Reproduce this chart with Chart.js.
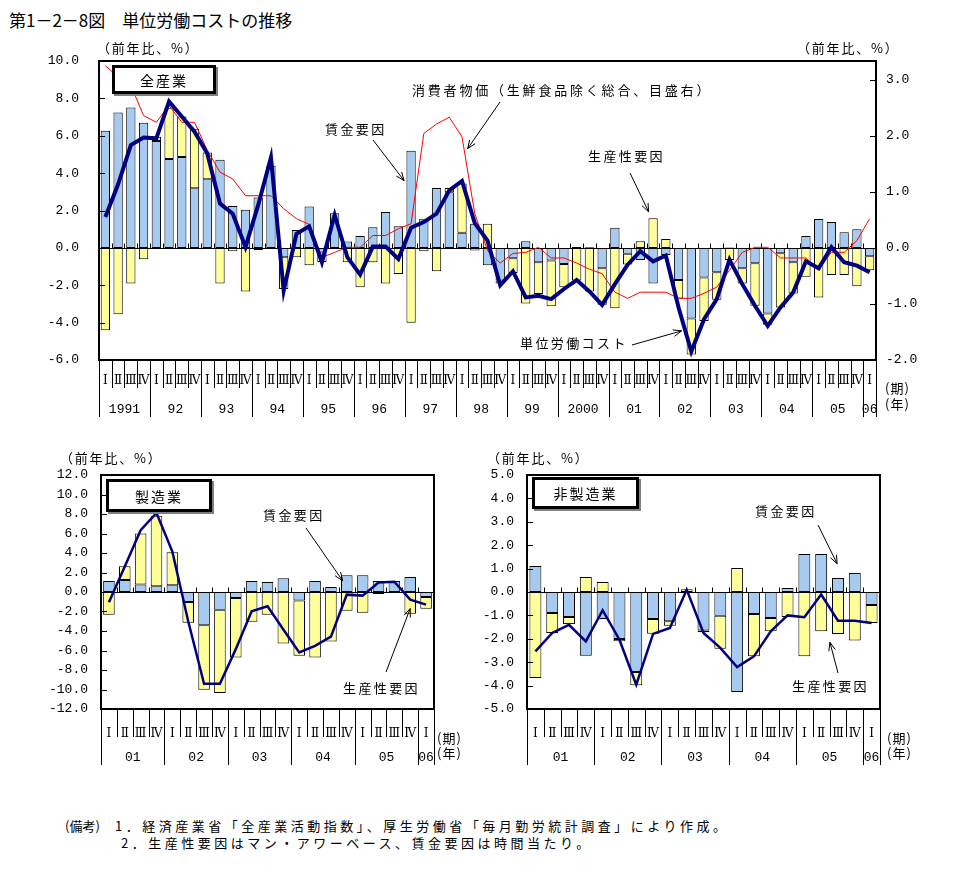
<!DOCTYPE html>
<html><head><meta charset="utf-8">
<script src="https://cdn.jsdelivr.net/npm/chart.js@4"></script>
<style>
body{margin:0;background:#fff;width:973px;height:872px;position:relative;overflow:hidden;font-family:"Noto Sans CJK JP",sans-serif;color:#000}
canvas{position:absolute}
.t{position:absolute;white-space:nowrap;line-height:1;font-size:13px}
.ann{letter-spacing:2.4px}
.box{position:absolute;box-sizing:border-box;border:3px solid #000;background:#fff;box-shadow:2px 2px 0 #808080;display:flex;align-items:center;justify-content:center;font-size:14px;letter-spacing:2px;line-height:1}
</style></head>
<body>
<div class="t" style="left:9px;top:11px;font-size:17px">第1－2－8図　単位労働コストの推移</div>

<canvas id="cAll" width="973" height="390" style="left:0;top:40px;width:973px;height:390px"></canvas>
<canvas id="cMfg" width="480" height="340" style="left:0;top:440px;width:480px;height:340px"></canvas>
<canvas id="cNon" width="493" height="340" style="left:480px;top:440px;width:493px;height:340px"></canvas>

<div class="t" style="left:97px;top:41px;letter-spacing:1.8px">（前年比、%）</div>
<div class="t" style="left:797px;top:41px;letter-spacing:1.8px">（前年比、%）</div>
<div class="t" style="left:885px;top:381px;letter-spacing:1px">(期)</div>
<div class="t" style="left:885px;top:397px;letter-spacing:1px">(年)</div>
<div class="box" style="left:112px;top:65px;width:104px;height:29px">全産業</div>
<div class="t ann" style="left:325px;top:122px">賃金要因</div>
<div class="t ann" style="left:412px;top:83px;letter-spacing:2.8px">消費者物価（生鮮食品除く総合、目盛右）</div>
<div class="t ann" style="left:588px;top:149px">生産性要因</div>
<div class="t ann" style="left:520px;top:336px">単位労働コスト</div>

<div class="t" style="left:60px;top:451px;letter-spacing:1.8px">（前年比、%）</div>
<div class="t" style="left:487px;top:451px;letter-spacing:1.8px">（前年比、%）</div>
<div class="box" style="left:106px;top:479px;width:106px;height:33px">製造業</div>
<div class="box" style="left:532px;top:477px;width:107px;height:32px">非製造業</div>
<div class="t ann" style="left:263px;top:508px">賃金要因</div>
<div class="t ann" style="left:343px;top:681px">生産性要因</div>
<div class="t ann" style="left:755px;top:504px">賃金要因</div>
<div class="t ann" style="left:792px;top:679px">生産性要因</div>
<div class="t" style="left:437px;top:731px;letter-spacing:1px">(期)</div>
<div class="t" style="left:437px;top:746px;letter-spacing:1px">(年)</div>
<div class="t" style="left:887px;top:731px;letter-spacing:1px">(期)</div>
<div class="t" style="left:887px;top:746px;letter-spacing:1px">(年)</div>

<div class="t" style="left:65px;top:819px">(備考)</div>
<div class="t" style="left:115px;top:819px;letter-spacing:3.5px">1．経済産業省「全産業活動指数」、厚生労働省「毎月勤労統計調査」により作成。</div>
<div class="t" style="left:121px;top:836px;letter-spacing:3.5px">2．生産性要因はマン・アワーベース、賃金要因は時間当たり。</div>

<script>
// ---------- data ----------
const quarterNames = ['Ⅰ','Ⅱ','Ⅲ','Ⅳ'];
const yearsAll = ['1991','92','93','94','95','96','97','98','99','2000','01','02','03','04','05','06'];
const yearsSub = ['01','02','03','04','05','06'];

// 全産業 1991Q1–2006Q1
const wageAll = [6.27,7.24,7.51,6.70, 5.72,4.75,4.86,3.19, 3.67,4.71,2.24,2.04, 2.69,4.39,-0.50,0.95,
  2.22,-0.25,1.85,0.34, 0.63,1.11,1.92,1.16, 5.20,1.56,3.21,2.97, 0.81,1.29,-0.93,-1.75,
  -0.56,0.36,-0.77,-0.68, -0.86,0.05,0.03,-1.09, 1.08,-0.32,-0.65,-1.90, -0.38,-1.72,-3.78,-1.58,
  -1.31,0.02,-1.09,-0.82, -3.51,-0.29,-0.77,0.63, 1.54,1.38,0.84,1.00, -0.45];
const prodAll = [-4.41,-3.55,-1.90,-0.61, 0.23,2.72,2.17,3.19, 1.43,-1.90,-0.18,-2.33, -0.11,-0.05,-1.70,-0.50,
  -0.93,-0.50,-0.05,-0.77, -2.11,-0.77,-1.90,-1.40, -4.00,-0.18,-1.25,0.24, 2.63,-0.14,1.29,-0.15,
  -0.79,-2.97,-1.70,-2.45, -1.25,-1.75,-2.33,-1.95, -3.23,-0.57,0.36,1.59, 0.47,-0.99,-1.92,-2.33,
  -1.47,-0.65,-0.81,-2.28, -0.61,-2.90,-1.67,-1.54, -2.65,-1.45,-1.45,-2.06, -0.75];
const ulcAll = [1.65,3.40,5.50,5.91, 5.86,7.83,7.03,6.22, 5.05,2.37,1.83,0.04, 2.30,4.84,-2.29,0.75,
  1.15,-0.77,1.76,-0.50, -1.43,0.07,0.07,-0.59, 1.08,1.38,1.83,3.08, 3.58,1.33,0.39,-2.00,
  -1.25,-2.65,-2.56,-2.74, -2.20,-1.72,-2.33,-3.05, -1.94,-0.90,-0.18,-0.72, -0.41,-3.19,-5.55,-3.82,
  -2.74,-0.63,-1.94,-3.10, -4.18,-3.19,-2.38,-0.72, -1.09,0.04,-0.77,-0.95, -1.31];
const cpiAll = [3.25,3.05,2.90,2.36, 2.24,2.54,2.24,2.24, 1.74,1.35,1.23,0.93, 0.93,0.93,0.70,0.52,
  0.42,-0.17,-0.08,0.01, 0.01,0.22,0.22,0.34, 0.43,2.04,2.21,2.33, 1.98,0.61,-0.05,-0.27,
  -0.10,-0.08,0.01,-0.18, -0.18,-0.27,-0.38,-0.46, -0.79,-0.90,-0.79,-0.79, -0.79,-0.90,-0.90,-0.81,
  -0.70,-0.40,-0.08,0.01, 0.01,-0.18,-0.18,-0.18, -0.38,-0.08,-0.08,0.13, 0.52];

// 製造業 2001Q1–2006Q1
const wageMfg = [1.12,1.22,0.78,0.58, 0.68,-1.02,-3.42,-1.83, -0.61,1.12,1.02,1.42, -0.88,1.12,0.51,1.73, 1.73,1.12,1.12,1.53, -0.51];
const prodMfg = [-2.34,1.42,5.22,7.25, 3.39,-2.14,-6.61,-8.54, -6.10,-3.05,-2.34,-5.29, -5.66,-6.71,-5.08,-1.93, -2.14,-0.20,0.00,-2.24, -1.22];
const ulcMfg  = [-1.05,2.61,6.34,8.10, 4.14,-3.00,-9.42,-9.42, -5.86,-1.97,-1.46,-3.85, -6.20,-5.53,-4.58,-0.27, -0.37,0.98,1.05,-0.78, -1.29];

// 非製造業 2001Q1–2006Q1
const wageNon = [1.11,-0.90,-1.07,-2.72, -1.15,-2.01,-3.42,-1.15, -1.25,-0.05,-1.64,-1.01, -4.27,-0.94,-1.11,0.17, 1.62,1.62,0.60,0.81, -0.56];
const prodNon = [-3.68,-0.85,-0.30,0.64, 0.43,-0.10,-0.57,-0.63, -0.19,0.12,-0.08,-1.42, 1.03,-1.81,-0.57,-1.07, -2.75,-1.68,-1.79,-2.07, -0.77];
const ulcNon  = [-2.54,-1.75,-1.40,-2.11, -0.78,-2.04,-3.96,-1.79, -1.54,0.10,-1.75,-2.39, -3.21,-2.75,-1.68,-1.00, -1.08,-0.11,-1.23,-1.23, -1.32];

// ---------- helpers ----------
const BLUE = '#A6CAF0', YELLOW = '#FFFF99', NAVY = '#000080', RED = '#FF0000';
const NUMFONT = 'Liberation Mono, DejaVu Sans Mono, monospace';
const ROMFONT = 'DejaVu Serif, Noto Sans CJK JP, serif';

function quarterLabels(n){ return Array.from({length:n}, (_, i) => quarterNames[i % 4]); }
function yearCenters(n, count){
  const c = [];
  for (let k = 0; k < count; k++){ const s = 4*k, e = Math.min(s+4, n) - 1; c.push((s+e)/2); }
  return c;
}

function makeDeco(cfg){
  return {
    id: 'deco',
    beforeDatasetsDraw(chart){
      const {ctx, chartArea:a, scales} = chart;
      const x = scales.x, y = scales.y, n = chart.data.labels.length;
      const y0 = Math.round(y.getPixelForValue(0)) + 0.5;
      ctx.save();
      ctx.strokeStyle = '#000'; ctx.lineWidth = 1;
      ctx.beginPath();
      ctx.moveTo(a.left, y0); ctx.lineTo(a.right, y0);
      for (let i = 1; i < n; i++){
        const px = Math.round(x.getPixelForValue(i - 0.5)) + 0.5;
        ctx.moveTo(px, y0); ctx.lineTo(px, y0 - 5);
      }
      ctx.stroke();
      ctx.restore();
    },
    afterDraw(chart){
      const {ctx, chartArea:a, scales} = chart;
      const x = scales.x, y = scales.y, n = chart.data.labels.length;
      ctx.save();
      ctx.strokeStyle = '#000'; ctx.lineWidth = 1;
      ctx.beginPath();
      y.ticks.forEach(t => { const py = Math.round(y.getPixelForValue(t.value)) + 0.5; ctx.moveTo(a.left, py); ctx.lineTo(a.left + 6, py); });
      if (scales.y2) scales.y2.ticks.forEach(t => { const py = Math.round(scales.y2.getPixelForValue(t.value)) + 0.5; ctx.moveTo(a.right - 6, py); ctx.lineTo(a.right, py); });
      for (let i = 0; i <= n; i++){
        const px = Math.round(x.getPixelForValue(i - 0.5)) + 0.5;
        const long = (i % 4 === 0) || i === n;
        ctx.moveTo(px, a.bottom); ctx.lineTo(px, a.bottom + (long ? cfg.longLen : cfg.shortLen));
      }
      ctx.stroke();
      // year row labels, centred on each year's span of the category scale
      ctx.fillStyle = '#000';
      ctx.font = '13px ' + NUMFONT;
      ctx.textAlign = 'center'; ctx.textBaseline = 'middle';
      yearCenters(n, cfg.years.length).forEach((c, k) => {
        ctx.fillText(cfg.years[k], x.getPixelForValue(c), a.bottom + cfg.yearOff);
      });
      ctx.lineWidth = 2;
      ctx.strokeRect(a.left, a.top, a.right - a.left, a.bottom - a.top);
      ctx.lineWidth = 1;
      (cfg.arrows || []).forEach(ar => {
        const ys = scales[ar.axis || 'y'];
        const tx = x.getPixelForValue(ar.at[0]), ty = ys.getPixelForValue(ar.at[1]);
        const fx = ar.from[0], fy = ar.from[1];
        const ang = Math.atan2(ty - fy, tx - fx), L = 9, sp = 0.38;
        ctx.beginPath();
        ctx.moveTo(fx, fy); ctx.lineTo(tx, ty);
        ctx.moveTo(tx - L*Math.cos(ang - sp), ty - L*Math.sin(ang - sp));
        ctx.lineTo(tx, ty);
        ctx.lineTo(tx - L*Math.cos(ang + sp), ty - L*Math.sin(ang + sp));
        ctx.stroke();
      });
      ctx.restore();
    }
  };
}

function buildChart(id, p){
  const n = p.wage.length;
  const datasets = [
    {type:'bar', label:'賃金要因', data:p.wage, backgroundColor:BLUE, borderColor:'#000', borderWidth:1, borderSkipped:false,
     stack:'s', order:2, xAxisID:'x', yAxisID:'y', barPercentage:p.barPct, categoryPercentage:1},
    {type:'bar', label:'生産性要因', data:p.prod, backgroundColor:YELLOW, borderColor:'#000', borderWidth:1, borderSkipped:false,
     stack:'s', order:3, xAxisID:'x', yAxisID:'y', barPercentage:p.barPct, categoryPercentage:1},
  ];
  if (p.cpi) datasets.push({type:'line', label:'消費者物価', data:p.cpi, borderColor:RED, borderWidth:1, pointRadius:0, tension:0, fill:false, order:1, xAxisID:'x', yAxisID:'y2'});
  datasets.push({type:'line', label:'単位労働コスト', data:p.ulc, borderColor:NAVY, borderWidth:p.ulcW, pointRadius:0, tension:0, fill:false, order:0, xAxisID:'x', yAxisID:'y'});

  const scales = {
    x: {type:'category', position:'bottom', stacked:true, offset:true,
        grid:{display:false, drawTicks:false}, border:{display:false},
        ticks:{autoSkip:false, maxRotation:0, minRotation:0, padding:p.qPad, color:'#000', font:{family:ROMFONT, size:12}},
        afterFit(s){ s.height = p.xH; s.paddingLeft = 0; s.paddingRight = 0; }},
    y: {type:'linear', position:'left', stacked:true, min:p.min, max:p.max,
        grid:{display:false, drawTicks:false}, border:{display:false},
        ticks:{stepSize:p.step, padding:p.lPad, color:'#000', font:{family:NUMFONT, size:13}, callback:v => v.toFixed(1)},
        afterFit(s){ s.width = p.lW; s.paddingTop = 0; s.paddingBottom = 0; }}
  };
  if (p.cpi){
    scales.y2 = {type:'linear', position:'right', min:p.min2, max:p.max2,
        grid:{display:false, drawTicks:false}, border:{display:false},
        afterBuildTicks(s){ s.ticks = s.ticks.filter(t => Math.abs(t.value - Math.round(t.value)) < 1e-6); },
        ticks:{stepSize:1, padding:p.rPad, color:'#000', font:{family:NUMFONT, size:13}, callback:v => v.toFixed(1)},
        afterFit(s){ s.width = p.rW; s.paddingTop = 0; s.paddingBottom = 0; }};
  }
  return new Chart(document.getElementById(id), {
    type:'bar',
    data:{labels:quarterLabels(n), datasets},
    options:{
      responsive:false, animation:false, devicePixelRatio:1, events:[],
      layout:{padding:p.pad},
      plugins:{legend:{display:false}, tooltip:{enabled:false}},
      scales
    },
    plugins:[makeDeco({longLen:p.longLen, shortLen:p.shortLen, arrows:p.arrows, years:p.years, yearOff:p.yearOff})]
  });
}

// 全産業 (canvas at page 0,40)
buildChart('cAll', {
  wage:wageAll, prod:prodAll, ulc:ulcAll, cpi:cpiAll, years:yearsAll,
  min:-6, max:10, step:2, min2:-2, max2:10/3,
  barPct:0.73, ulcW:4,
  pad:{top:21, left:0, right:0, bottom:0}, lW:99, rW:97, lPad:20, rPad:10,
  xH:70, qPad:14, yearOff:50, longLen:57, shortLen:28,
  arrows:[
    {from:[373,100], at:[23.45, 3.6]},
    {from:[500,62], at:[28.44, 1.77], axis:'y2'},
    {from:[630,133], at:[42.65, 1.93]},
    {from:[632,305], at:[45.24, -4.44]}
  ]
});

// 製造業 (canvas at page 0,440)
buildChart('cMfg', {
  wage:wageMfg, prod:prodMfg, ulc:ulcMfg, years:yearsSub,
  min:-12, max:12, step:2,
  barPct:0.73, ulcW:2.5,
  pad:{top:35, left:0, right:46, bottom:0}, lW:101, lPad:13,
  xH:71, qPad:18, yearOff:49, longLen:56, shortLen:28,
  arrows:[
    {from:[306,88], at:[14.74, 1.15]},
    {from:[386,232], at:[19.0, -1.7]}
  ]
});

// 非製造業 (canvas at page 480,440)
buildChart('cNon', {
  wage:wageNon, prod:prodNon, ulc:ulcNon, years:yearsSub,
  min:-5, max:5, step:1,
  barPct:0.71, ulcW:2.5,
  pad:{top:35, left:0, right:93, bottom:0}, lW:47, lPad:13,
  xH:71, qPad:18, yearOff:49, longLen:56, shortLen:28,
  arrows:[
    {from:[338,85], at:[17.95, 1.21]},
    {from:[358,233], at:[17.52, -2.15]}
  ]
});
</script>
</body></html>
